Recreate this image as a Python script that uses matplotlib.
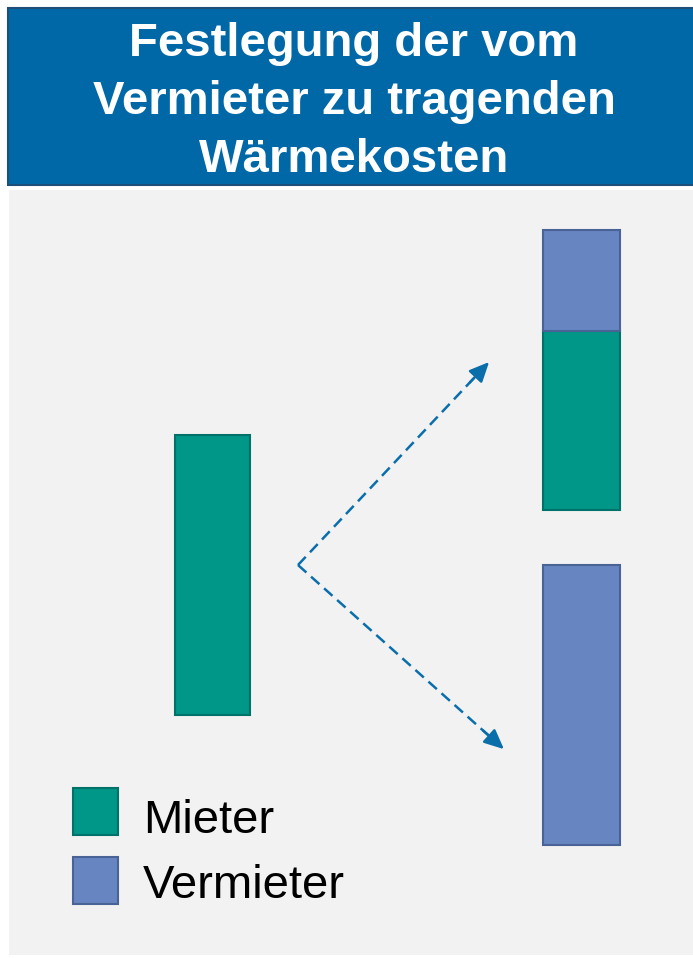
import matplotlib.pyplot as plt
from matplotlib.patches import Rectangle

plt.rcParams['font.family'] = ['Liberation Sans', 'DejaVu Sans']

# data (share of heat costs, in %)
title = 'Festlegung der vom\nVermieter zu tragenden\nWärmekosten'
labels = ['Mieter', 'Vermieter']
before_mieter = [100]
split_mieter = [64]
split_vermieter = [36]
all_vermieter = [100]

c_mieter, e_mieter = '#009688', '#00726a'
c_verm, e_verm = '#6785c1', '#4a6396'
arrow_c = '#0a6eaa'

W, H = 693, 958
k = 2.8  # px per percent

fig = plt.figure(figsize=(W / 100, H / 100), dpi=100)
fig.patch.set_facecolor('white')
ax = fig.add_axes([0, 0, 1, 1])
ax.set_xlim(0, W)
ax.set_ylim(0, H)
ax.axis('off')

def y(p):
    return H - p

# background panel and title box
ax.add_patch(Rectangle((9, y(955)), W, 955 - 190, facecolor='#f2f2f2', edgecolor='none'))
ax.add_patch(Rectangle((8, y(185)), W, 185 - 8, facecolor='#0068a6', edgecolor='#1d4f78', lw=1.5))
ax.text(354, y(102), title, color='white', fontsize=34, fontweight='bold',
        ha='center', va='center', linespacing=1.41)

# bars
ax.bar(212.5, [v * k for v in before_mieter], bottom=y(715), width=75,
       color=c_mieter, edgecolor=e_mieter, lw=1.5)
ax.bar(581.5, [v * k for v in split_mieter], bottom=y(510), width=77,
       color=c_mieter, edgecolor=e_mieter, lw=1.5)
ax.bar(581.5, [v * k for v in split_vermieter], bottom=y(510) + split_mieter[0] * k, width=77,
       color=c_verm, edgecolor=e_verm, lw=1.5)
ax.bar(581.5, [v * k for v in all_vermieter], bottom=y(845), width=77,
       color=c_verm, edgecolor=e_verm, lw=1.5)

# dashed arrows
start = (298, y(565))
for tip in [(491, y(360)), (506, y(751))]:
    dx, dy = tip[0] - start[0], tip[1] - start[1]
    f = 0.92
    ax.plot([start[0], start[0] + dx * f], [start[1], start[1] + dy * f],
            color=arrow_c, lw=1.8, ls=(0, (4.5, 2.5)))
    ax.annotate('', xy=tip, xytext=(start[0] + dx * 0.88, start[1] + dy * 0.88),
                arrowprops=dict(arrowstyle='-|>,head_length=1.2,head_width=0.55',
                                color=arrow_c, lw=1.8))

# legend
tops = [788, 857]
baselines = [833, 898]
for lab, top, base, fc, ec in zip(labels, tops, baselines, [c_mieter, c_verm], [e_mieter, e_verm]):
    ax.add_patch(Rectangle((73, y(top + 47)), 45, 47, facecolor=fc, edgecolor=ec, lw=1.5))
    ax.text(143, y(base), lab, fontsize=34, ha='left', va='baseline', color='black')

fig.savefig('out.png', dpi=100)
